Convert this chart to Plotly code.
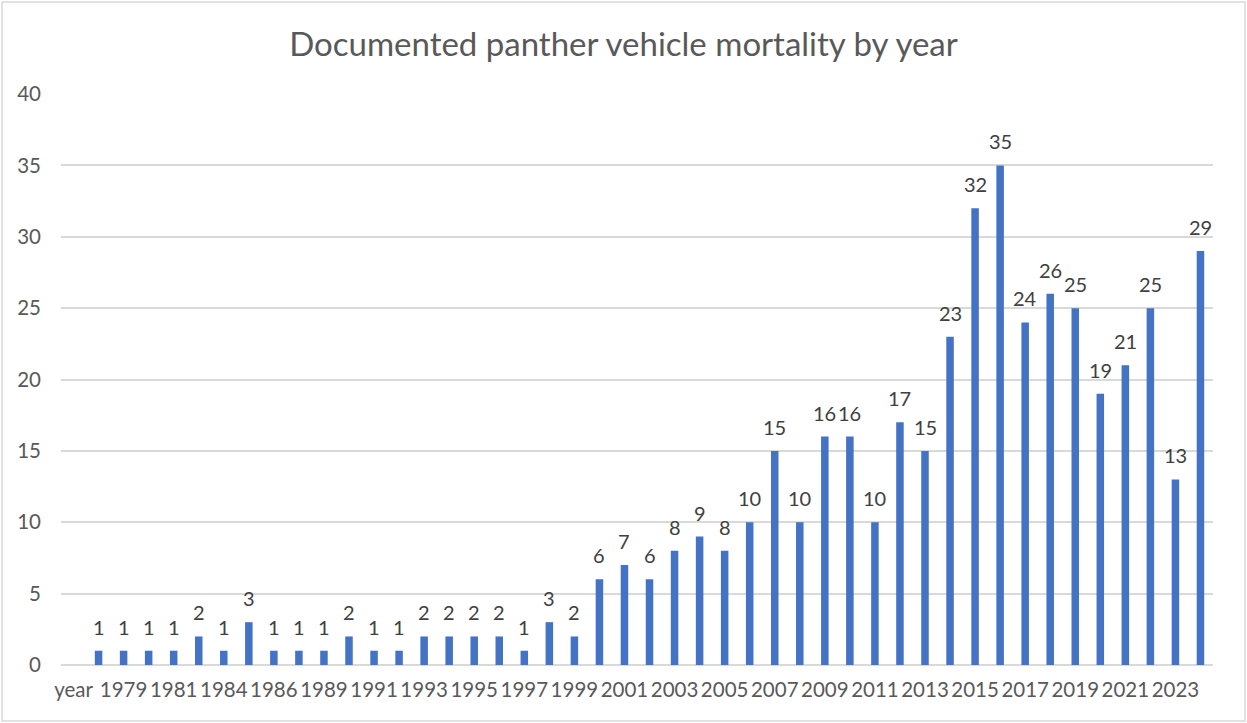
import plotly.graph_objects as go

# Category labels (first entry is the header cell of the source column)
years = ["year", "1978", "1979", "1980", "1981", "1983", "1984", "1985", "1986",
         "1988", "1989", "1990"] + [str(y) for y in range(1991, 2025)]

deaths = [None, 1, 1, 1, 1, 2, 1, 3, 1, 1, 1, 2, 1, 1, 2, 2, 2, 2, 1, 3, 2,
          6, 7, 6, 8, 9, 8, 10, 15, 10, 16, 16, 10, 17, 15, 23, 32, 35, 24,
          26, 25, 19, 21, 25, 13, 29]

# Only every other category label is printed on the axis
shown_labels = years[::2]

FONT = "Lato"
TEXT_GREY = "#595959"
BAR_BLUE = "#4472C4"

W, H = 1247, 723
ML, MR, MT, MB = 61, 34, 94, 58

fig = go.Figure()
fig.add_trace(go.Bar(
    x=years, y=deaths,
    marker=dict(color=BAR_BLUE, line=dict(width=0)),
    width=0.3,
    hoverinfo="x+y",
))

# value labels above each bar (category index used as the x position)
for i, val in enumerate(deaths):
    if val is None:
        continue
    fig.add_annotation(
        x=i, y=val, text=str(val), showarrow=False,
        yanchor="bottom", yshift=10,
        font=dict(family=FONT, size=20, color="#404040"),
    )

# light outer frame around the whole chart
pw = W - ML - MR
ph = H - MT - MB
fig.add_shape(
    type="rect", xref="paper", yref="paper",
    x0=(2 - ML) / pw, x1=(W - 2 - ML) / pw,
    y0=-(MB - 2) / ph, y1=1 + (MT - 2) / ph,
    line=dict(color="#d9d9d9", width=1.5), layer="below",
)

fig.update_layout(
    width=W, height=H,
    margin=dict(l=ML, r=MR, t=MT, b=MB),
    paper_bgcolor="white", plot_bgcolor="white",
    showlegend=False,
    title=dict(
        text="Documented panther vehicle mortality by year",
        x=0.5, xref="container", xanchor="center",
        y=1 - 44 / H, yanchor="middle",
        font=dict(family=FONT, size=33, color=TEXT_GREY),
    ),
)

fig.update_xaxes(
    type="category", range=[-0.5, len(years) - 0.5],
    tickmode="array", tickvals=shown_labels, ticktext=shown_labels,
    tickangle=0,
    tickfont=dict(family=FONT, size=20.5, color=TEXT_GREY),
    showgrid=False, showline=False, zeroline=False,
    ticks="", ticklabelstandoff=10,
)

fig.update_yaxes(
    range=[0, 40], dtick=5, tick0=0,
    tickfont=dict(family=FONT, size=20.5, color=TEXT_GREY),
    showgrid=True, gridcolor="#d9d9d9", gridwidth=1.5,
    zeroline=True, zerolinecolor="#d9d9d9", zerolinewidth=1.5,
    showline=False, ticks="", ticklabelstandoff=19,
)

fig.write_html("out.html")
